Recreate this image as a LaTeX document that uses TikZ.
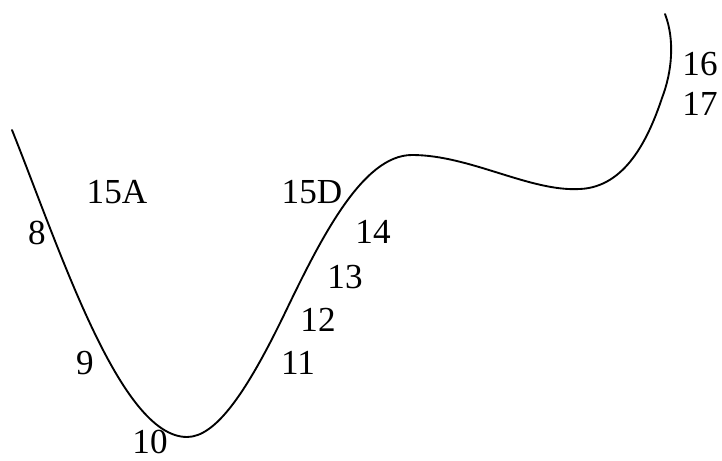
\documentclass[tikz,border=0pt]{standalone}
\usepackage{fontspec}
\setmainfont{Liberation Serif}
\begin{document}
\begin{tikzpicture}[x=0.03cm, y=-0.03cm, lbl/.style={inner sep=0pt, font=\fontsize{30}{36}\selectfont}]
    \useasboundingbox (0,0) rectangle (722,461);

    \draw[line width=1.6pt, line cap=round] (12,130)
        .. controls (60,250) and (120,437) .. (187,437)
        .. controls (215,437) and (245,395) .. (283,317)
        .. controls (320,240) and (362,155) .. (412,155)
        .. controls (470,155) and (530,192) .. (580,189)
        .. controls (625,187) and (648,140) .. (662,98)
        .. controls (672,72) and (675,40) .. (665,14);

    \node[lbl] (l8)  at (37,233) {8};
    \node[lbl] (l9)  at (85,363) {9};
    \node[lbl] (l10) at (150,442) {10};
    \node[lbl] (l11) at (298,363) {11};
    \node[lbl] (l12) at (318,320) {12};
    \node[lbl] (l13) at (345,277) {13};
    \node[lbl] (l14) at (373,232) {14};
    \node[lbl] (l15a) at (117,192) {15A};
    \node[lbl] (l15d) at (312,192) {15D};
    \node[lbl] (l16) at (700,64) {16};
    \node[lbl] (l17) at (700,104) {17};
\end{tikzpicture}
\end{document}
